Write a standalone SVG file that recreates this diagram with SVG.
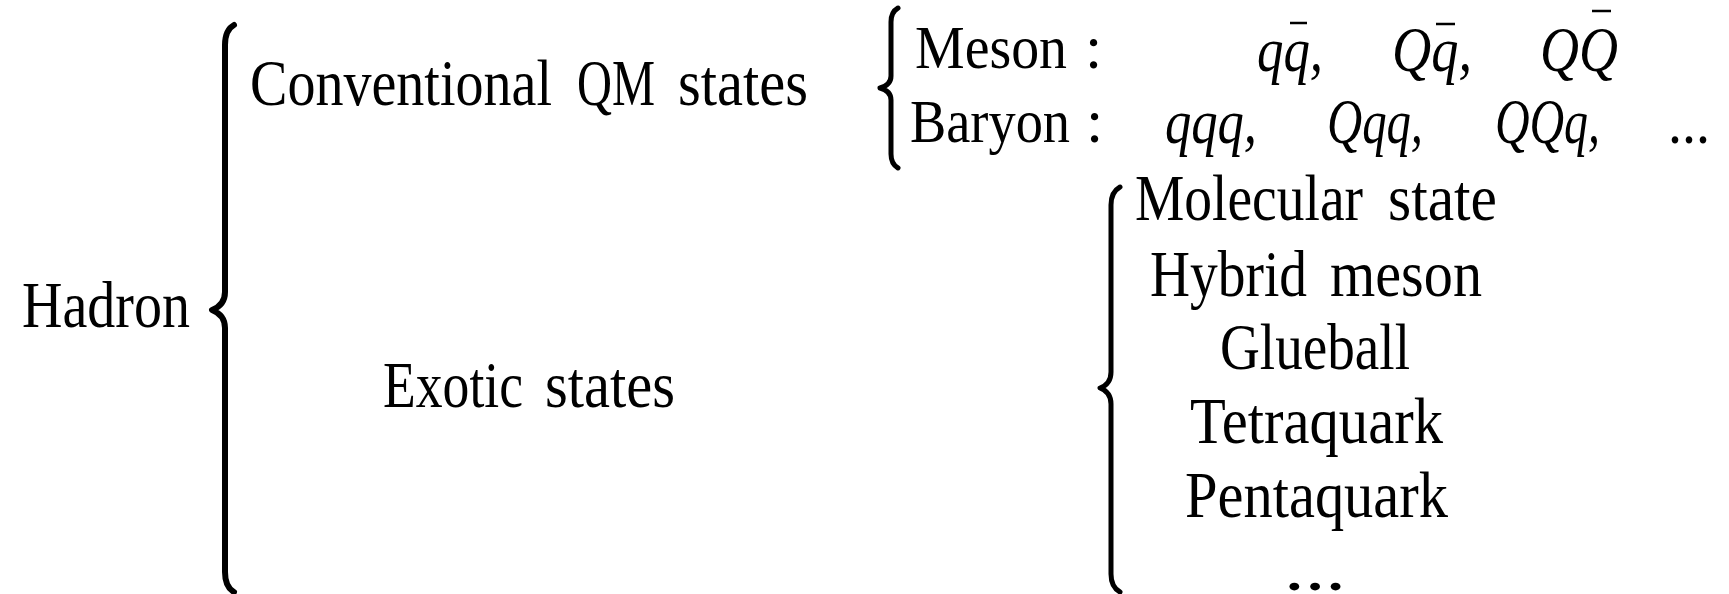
<svg xmlns="http://www.w3.org/2000/svg" width="1729" height="594" viewBox="0 0 1729 594">
<style>
text{font-family:"Liberation Serif","DejaVu Serif",serif;fill:#000}
.t{font-size:65px}
.s{font-size:62px}
.m{font-size:64px;font-style:italic}
.br{fill:none;stroke:#000;stroke-linecap:round;stroke-linejoin:round}
.bar{stroke:#000;stroke-width:2.5}
</style>
<rect width="1729" height="594" fill="#fff"/>
<g id="connectors">
<path class="br" stroke-width="6" d="M234,25 Q225,30 225,45 L225,292 Q225,305 212,310 Q225,315 225,328 L225,572 Q225,587 234,592"/>
<path class="br" stroke-width="5" d="M898,8 Q891,12 891,22 L891,76 Q891,85 880,88 Q891,91 891,100 L891,154 Q891,164 898,168"/>
<path class="br" stroke-width="5" d="M1120,187 Q1111,192 1111,205 L1111,372 Q1111,384 1100,388 Q1111,392 1111,404 L1111,574 Q1111,587 1120,592"/>
</g>
<g id="hadron">
<text class="t" x="22" y="327" textLength="168" lengthAdjust="spacingAndGlyphs">Hadron</text>
</g>
<g id="conventional">
<text class="t" x="250" y="105" textLength="302" lengthAdjust="spacingAndGlyphs">Conventional</text>
<text class="t" x="577" y="105" textLength="78" lengthAdjust="spacingAndGlyphs">QM</text>
<text class="t" x="678" y="105" textLength="130" lengthAdjust="spacingAndGlyphs">states</text>
</g>
<g id="exotic">
<text class="t" x="383" y="407" textLength="140" lengthAdjust="spacingAndGlyphs">Exotic</text>
<text class="t" x="545" y="407" textLength="130" lengthAdjust="spacingAndGlyphs">states</text>
</g>
<g id="meson">
<text class="s" x="915" y="68" textLength="152" lengthAdjust="spacingAndGlyphs">Meson</text>
<text class="s" x="1085" y="68">:</text>
<text class="m" x="1257" y="71" textLength="66" lengthAdjust="spacingAndGlyphs">qq,</text>
<line class="bar" x1="1290" y1="23" x2="1307" y2="23"/>
<text class="m" x="1392" y="71" textLength="80" lengthAdjust="spacingAndGlyphs">Qq,</text>
<line class="bar" x1="1436" y1="24" x2="1455" y2="24"/>
<text class="m" x="1540" y="71" textLength="78" lengthAdjust="spacingAndGlyphs">QQ</text>
<line class="bar" x1="1592" y1="11" x2="1611" y2="11"/>
</g>
<g id="baryon">
<text class="s" x="910" y="142" textLength="160" lengthAdjust="spacingAndGlyphs">Baryon</text>
<text class="s" x="1086" y="142">:</text>
<text class="m" x="1165" y="143" textLength="92" lengthAdjust="spacingAndGlyphs">qqq,</text>
<text class="m" x="1327" y="143" textLength="96" lengthAdjust="spacingAndGlyphs">Qqq,</text>
<text class="m" x="1495" y="143" textLength="105" lengthAdjust="spacingAndGlyphs">QQq,</text>
<text class="s" x="1668" y="143" textLength="42" lengthAdjust="spacingAndGlyphs">...</text>
</g>
<g id="molecular">
<text class="t" x="1135" y="220" textLength="228" lengthAdjust="spacingAndGlyphs">Molecular</text>
<text class="t" x="1388" y="220" textLength="109" lengthAdjust="spacingAndGlyphs">state</text>
</g>
<g id="hybrid">
<text class="t" x="1150" y="296" textLength="157" lengthAdjust="spacingAndGlyphs">Hybrid</text>
<text class="t" x="1330" y="296" textLength="152" lengthAdjust="spacingAndGlyphs">meson</text>
</g>
<g id="glueball">
<text class="t" x="1220" y="369" textLength="190" lengthAdjust="spacingAndGlyphs">Glueball</text>
</g>
<g id="tetraquark">
<text class="t" x="1190" y="443" textLength="253" lengthAdjust="spacingAndGlyphs">Tetraquark</text>
</g>
<g id="pentaquark">
<text class="t" x="1185" y="517" textLength="263" lengthAdjust="spacingAndGlyphs">Pentaquark</text>
</g>
<g id="more">
<text class="t" x="1284" y="590" textLength="62" lengthAdjust="spacingAndGlyphs">...</text>
</g>
</svg>
